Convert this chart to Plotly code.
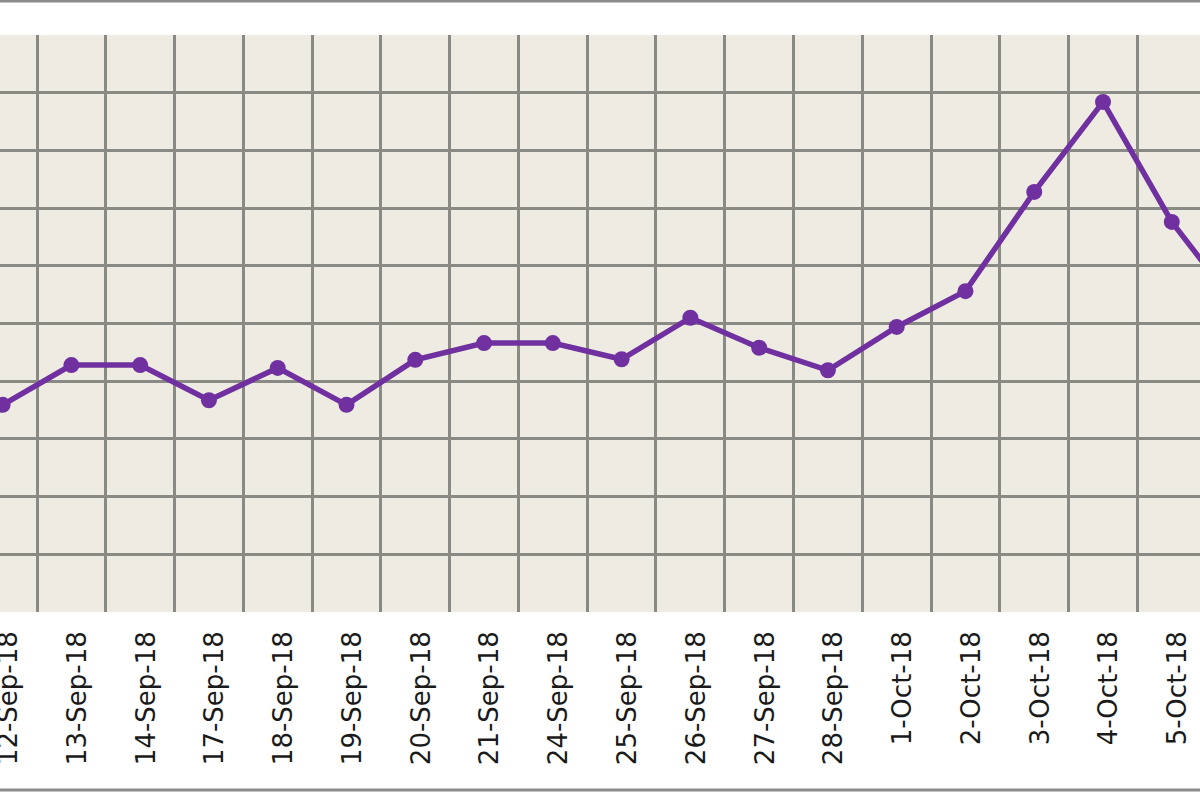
import plotly.graph_objects as go

dates = ["12-Sep-18", "13-Sep-18", "14-Sep-18", "17-Sep-18", "18-Sep-18", "19-Sep-18",
         "20-Sep-18", "21-Sep-18", "24-Sep-18", "25-Sep-18", "26-Sep-18", "27-Sep-18",
         "28-Sep-18", "1-Oct-18", "2-Oct-18", "3-Oct-18", "4-Oct-18", "5-Oct-18", "8-Oct-18"]
values = [3.59, 4.28, 4.28, 3.67, 4.23, 3.59, 4.37, 4.66, 4.66, 4.38, 5.10, 4.58,
          4.19, 4.94, 5.56, 7.28, 8.84, 6.76, 5.22]

PURPLE = "#7030A0"
GRID = "#8a8a84"

fig = go.Figure()
fig.add_trace(go.Scatter(
    x=dates, y=values, mode="lines+markers",
    line=dict(color=PURPLE, width=5.5),
    marker=dict(color=PURPLE, size=16),
    cliponaxis=True,
    showlegend=False,
))

fig.update_layout(
    width=1200, height=800,
    margin=dict(l=0, r=0, t=35, b=188, autoexpand=False),
    paper_bgcolor="white",
    plot_bgcolor="#EEECE2",
    font=dict(family="DejaVu Sans", size=26, color="#1a1a1a"),
    xaxis=dict(
        type="category",
        range=[-0.038, 17.41],
        tickson="boundaries",
        showgrid=True, gridcolor=GRID, gridwidth=2.5,
        ticks="", tickangle=-90,
        ticklabelstandoff=13,
        ticklabelshift=6,
        automargin=False,
        showline=False, zeroline=False,
    ),
    yaxis=dict(
        range=[0, 10], dtick=1,
        showgrid=True, gridcolor=GRID, gridwidth=2.5,
        showticklabels=False, ticks="",
        automargin=False,
        showline=False, zeroline=False,
    ),
    shapes=[
        dict(type="line", xref="paper", yref="paper", x0=-0.1, x1=1.1,
             y0=(612 - 1) / 577, y1=(612 - 1) / 577,
             line=dict(color="#8c8c8c", width=3)),
        dict(type="line", xref="paper", yref="paper", x0=-0.1, x1=1.1,
             y0=(612 - 790) / 577, y1=(612 - 790) / 577,
             line=dict(color="#8c8c8c", width=3)),
    ],
)

fig.write_html("out.html",
               config={"displayModeBar": False},
               post_script="document.body.style.margin='0';document.body.style.overflow='hidden';")
